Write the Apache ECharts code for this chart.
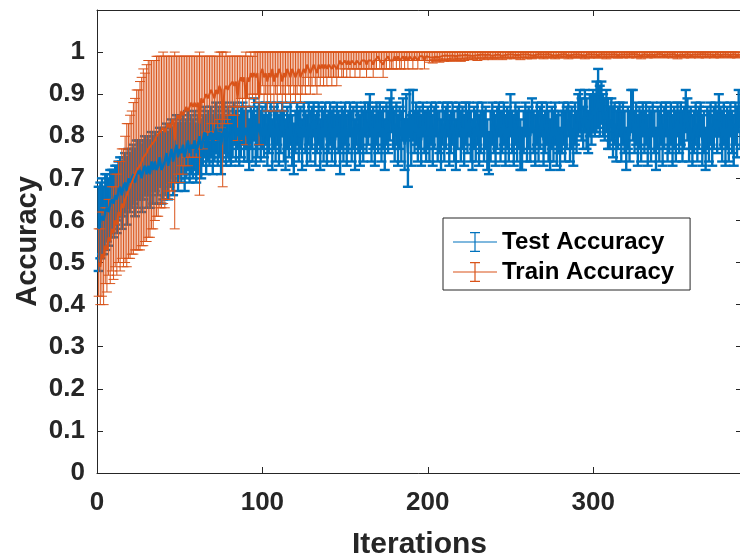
<!DOCTYPE html>
<html>
<head>
<meta charset="utf-8">
<script src="https://cdn.jsdelivr.net/npm/echarts@6/dist/echarts.min.js"></script>
<style>
html, body { margin: 0; padding: 0; background: #fff; }
#main { width: 740px; height: 560px; }
</style>
</head>
<body>
<div id="main"></div>
<script>
(() => {
    // accuracies in percent, one value per iteration (iteration = index + 1)
    var testMean = [
        58,60,61,60,62,63,62,64,65,64,66,65,67,68,66,68,69,67,70,69,
        70,71,69,72,71,72,70,72,73,71,73,71,74,72,74,72,73,75,72,73,
        74,76,73,75,77,74,76,78,75,77,76,78,75,77,79,76,78,77,79,76,
        78,80,77,79,81,78,80,79,81,78,80,82,79,81,78,80,82,79,81,80,
        79,81,83,80,82,79,81,83,80,82,80,78,82,80,84,79,81,83,80,82,
        80,83,79,81,84,78,82,80,83,79,81,84,80,78,82,80,83,79,77,81,
        83,80,82,78,84,81,79,83,80,82,84,79,81,83,78,82,80,84,79,81,
        83,80,82,79,84,81,78,82,80,83,79,81,84,80,82,78,83,81,79,82,
        80,84,81,83,85,80,82,79,83,81,84,80,82,78,83,81,84,86,82,80,
        83,79,82,80,84,78,85,76,86,79,85,81,83,80,82,79,84,81,80,82,
        80,83,79,82,84,80,81,78,83,80,82,84,79,81,83,80,78,82,84,80,
        82,79,83,81,84,80,78,82,80,83,79,81,84,80,82,78,76,80,83,81,
        79,82,84,80,81,83,79,82,80,85,81,79,83,80,82,78,77,81,84,80,
        82,80,85,81,79,83,80,82,84,79,81,83,80,78,82,80,83,79,81,77,
        81,83,80,82,84,80,82,79,83,81,85,86,84,82,86,83,81,85,84,86,
        85,87,89,86,88,85,84,86,83,82,84,81,83,80,82,84,80,83,81,77,
        82,80,86,85,81,83,79,82,80,84,81,83,79,82,80,84,81,77,82,80,
        83,79,82,84,80,81,83,79,82,80,84,81,83,80,82,86,84,80,82,79,
        81,83,80,82,84,79,81,77,82,80,83,79,82,84,81,85,82,80,83,79,
        82,80,84,81,79,83,81,86,82
    ];
    var testErr = [
        10,9,9,8,9,8,8,8,7,8,7,8,7,7,8,7,7,8,7,7,
        7,7,8,7,8,7,8,7,7,8,7,8,7,8,7,8,7,7,8,8,
        8,7,8,7,7,8,7,7,8,7,7,7,8,7,7,7,7,7,7,7,
        7,6,7,6,6,7,6,6,6,7,6,6,6,6,7,6,6,6,6,6,
        6,6,5,6,5,6,6,5,6,5,6,6,5,6,5,6,6,5,6,5,
        5,5,6,5,4,6,5,6,5,6,5,4,6,6,5,5,5,6,6,5,
        5,6,5,6,4,5,6,5,6,5,4,6,5,5,6,5,6,4,6,5,
        5,6,5,6,4,5,7,5,6,5,6,5,4,6,5,6,5,5,6,5,
        6,4,5,5,5,6,5,6,5,5,4,6,5,6,5,5,5,5,5,6,
        5,6,5,6,5,6,5,8,5,6,6,5,5,6,5,6,4,5,6,5,
        6,5,6,5,4,6,5,6,5,6,5,4,6,5,5,6,6,5,4,6,
        5,6,5,5,4,6,6,5,6,5,6,5,4,6,5,6,5,6,5,5,
        6,5,4,6,5,5,6,5,6,5,5,6,5,6,5,6,5,5,4,6,
        5,6,4,5,6,5,6,5,4,6,5,5,6,6,5,6,5,6,5,5,
        5,5,6,5,4,6,5,6,5,5,5,5,5,5,5,6,5,5,6,5,
        5,6,7,6,5,5,5,5,6,5,5,6,5,6,5,4,6,5,5,5,
        5,6,5,6,5,5,6,5,6,4,5,5,6,5,6,4,5,5,5,6,
        5,6,5,4,6,5,5,6,5,6,4,5,5,6,5,5,5,6,5,6,
        5,5,6,5,4,6,5,5,5,6,5,6,5,4,5,5,5,6,5,6,
        5,6,4,5,6,5,6,5,5
    ];
    var trainMean = [
        50,49,52,51,54,53,56,55,58,57,60,59,62,61,64,63,65,66,67,68,
        69,70,71,72,72,73,74,75,75,76,77,77,78,78,79,80,80,81,81,82,
        81,82,83,82,83,84,79,84,85,84,86,85,86,87,86,87,88,87,88,87,
        88,83,89,88,89,90,89,90,91,90,89,91,90,92,91,84,91,92,91,92,
        92,93,92,93,89,93,94,93,94,89,94,93,95,94,95,94,95,89,95,96,
        94,95,93,95,94,96,93,95,94,96,95,93,95,94,96,95,94,96,95,94,
        95,96,94,95,96,95,97,96,95,96,97,96,95,97,96,97,96,97,96,97,
        97,96,97,97,96,97,98,97,97,98,97,98,97,98,98,97,98,98,97,98,
        98,98,97,98,98,98,97,98,98,99,98,98,97,98,98,99,98,98,98,99,
        98,99,98,98,99,98,99,98,99,99,98,99,99,98,99,99,99,98,99,99,
        98.8,99.0,98.7,99.1,98.9,99.2,98.8,99.0,99.1,98.9,99.2,99.0,99.1,98.9,99.2,99.3,99.0,99.1,99.2,98.9,
        99.2,99.0,99.3,99.1,99.2,99.4,99.1,99.3,99.2,99.0,99.3,99.2,99.4,99.1,99.3,99.2,99.4,99.3,99.1,99.3,
        99.3,99.2,99.4,99.3,99.1,99.4,99.3,99.2,99.4,99.3,99.4,99.2,99.3,99.4,99.3,99.1,99.4,99.3,99.4,99.2,
        99.4,99.3,99.2,99.4,99.3,99.4,99.5,99.3,99.4,99.2,99.4,99.3,99.5,99.4,99.3,99.4,99.2,99.4,99.3,99.5,
        99.4,99.3,99.5,99.4,99.2,99.4,99.3,99.5,99.4,99.3,99.4,99.5,99.3,99.4,99.2,99.4,99.5,99.3,99.4,99.3,
        99.4,99.5,99.3,99.4,99.5,99.3,99.4,99.2,99.4,99.5,99.4,99.3,99.5,99.4,99.3,99.5,99.4,99.3,99.4,99.5,
        99.4,99.3,99.5,99.4,99.5,99.3,99.4,99.5,99.2,99.4,99.5,99.4,99.3,99.5,99.4,99.5,99.3,99.4,99.5,99.4,
        99.5,99.4,99.3,99.5,99.4,99.5,99.4,99.3,99.5,99.4,99.2,99.5,99.4,99.5,99.3,99.4,99.5,99.4,99.3,99.5,
        99.4,99.5,99.4,99.3,99.5,99.4,99.5,99.3,99.4,99.5,99.4,99.5,99.3,99.4,99.5,99.4,99.3,99.5,99.4,99.5,
        99.4,99.5,99.3,99.4,99.5,99.4,99.3,99.5,99.4
    ];
    var trainErr = [
        8,9,10,11,9,10,9,10,10,11,11,12,12,13,13,14,15,17,16,17,
        17,18,18,19,19,20,20,21,20,21,21,21,20,20,19,19,19,18,18,18,
        18,17,16,17,16,15,21,15,14,15,13,14,13,12,13,12,11,12,11,12,
        11,17,10,11,10,9,10,9,8,9,10,8,9,8,9,16,8,8,8,7,
        7,6,7,6,10,6,5,6,5,11,5,6,5,5,5,6,5,11,5,4,
        6,5,7,5,6,4,7,5,6,4,5,7,5,6,4,5,6,4,5,6,
        5,4,6,5,4,5,3,4,5,4,3,4,5,3,4,3,4,3,4,3,
        3,4,3,3,4,3,2,3,3,2,3,2,3,2,2,3,2,2,3,2,
        2,2,3,2,2,2,3,2,2,1,2,2,3,2,2,1,2,2,2,1,
        2,1,2,2,1,2,1,2,1,1,2,1,1,2,1,1,1,2,1,1,
        1.2,1.0,1.3,0.9,1.1,0.8,1.2,1.0,0.9,1.1,0.8,1.0,0.9,1.1,0.8,0.7,1.0,0.9,0.8,1.1,
        0.8,1.0,0.7,0.9,0.8,0.6,0.9,0.7,0.8,1.0,0.7,0.8,0.6,0.9,0.7,0.8,0.6,0.7,0.9,0.7,
        0.7,0.8,0.6,0.7,0.9,0.6,0.7,0.8,0.6,0.7,0.6,0.8,0.7,0.6,0.7,0.9,0.6,0.7,0.6,0.8,
        0.6,0.7,0.8,0.6,0.7,0.6,0.5,0.7,0.6,0.8,0.6,0.7,0.5,0.6,0.7,0.6,0.8,0.6,0.7,0.5,
        0.6,0.7,0.5,0.6,0.8,0.6,0.7,0.5,0.6,0.7,0.6,0.5,0.7,0.6,0.8,0.6,0.5,0.7,0.6,0.7,
        0.6,0.5,0.7,0.6,0.5,0.7,0.6,0.8,0.6,0.5,0.6,0.7,0.5,0.6,0.7,0.5,0.6,0.7,0.6,0.5,
        0.6,0.7,0.5,0.6,0.5,0.7,0.6,0.5,0.8,0.6,0.5,0.6,0.7,0.5,0.6,0.5,0.7,0.6,0.5,0.6,
        0.5,0.6,0.7,0.5,0.6,0.5,0.6,0.7,0.5,0.6,0.8,0.5,0.6,0.5,0.7,0.6,0.5,0.6,0.7,0.5,
        0.6,0.5,0.6,0.7,0.5,0.6,0.5,0.7,0.6,0.5,0.6,0.5,0.7,0.6,0.5,0.6,0.7,0.5,0.6,0.5,
        0.6,0.5,0.7,0.6,0.5,0.6,0.7,0.5,0.6
    ];
    var xTicks = [0, 100, 200, 300];
    var yTicks = [0, 0.1, 0.2, 0.3, 0.4, 0.5, 0.6, 0.7, 0.8, 0.9, 1];

    var blue = '#0072BD';
    var orange = '#D95319';
    var ink = '#262626';
    var font = '"Liberation Sans", Arial, sans-serif';

    function meanData(mean) {
        return mean.map(function (m, i) { return [i + 1, m / 100]; });
    }
    function barData(mean, err) {
        return mean.map(function (m, i) { return [i + 1, (m - err[i]) / 100, (m + err[i]) / 100]; });
    }

    // errorbar: vertical whisker with a small cap at each end
    function errorBar(color, width) {
        return function (params, api) {
            var hi = api.coord([api.value(0), api.value(2)]);
            var lo = api.coord([api.value(0), api.value(1)]);
            var cap = 5;
            var st = { stroke: color, lineWidth: width };
            return {
                type: 'group',
                children: [
                    { type: 'line', shape: { x1: hi[0], y1: hi[1], x2: lo[0], y2: lo[1] }, style: st },
                    { type: 'line', shape: { x1: hi[0] - cap, y1: hi[1], x2: hi[0] + cap, y2: hi[1] }, style: st },
                    { type: 'line', shape: { x1: lo[0] - cap, y1: lo[1], x2: lo[0] + cap, y2: lo[1] }, style: st }
                ]
            };
        };
    }

    var legendIcon = 'path://M0,9.4H44V10.6H0Z M21.4,0H22.6V20H21.4Z M17,0H27V1.2H17Z M17,18.8H27V20H17Z';

    var tickStyle = { show: true, inside: true, length: 6, lineStyle: { color: ink, width: 1 } };
    var lineStyle = { show: true, onZero: false, lineStyle: { color: ink, width: 1 } };
    var labelStyle = { fontSize: 26, fontWeight: 'bold', color: ink, fontFamily: font };

    var myChart = echarts.init(document.getElementById('main'));

    var option = {
        animation: false,
        backgroundColor: '#fff',
        textStyle: { fontFamily: font },
        grid: { left: 97, right: -2, top: 10, bottom: 87, containLabel: false, outerBoundsMode: 'none' },
        legend: {
            orient: 'vertical',
            left: 443,
            top: 218,
            padding: [12, 16, 6, 10],
            itemGap: 6,
            itemWidth: 44,
            itemHeight: 20,
            backgroundColor: '#fff',
            borderColor: ink,
            borderWidth: 1,
            borderRadius: 0,
            selectedMode: false,
            textStyle: { fontSize: 24, fontWeight: 'bold', color: '#000', fontFamily: font },
            data: [
                { name: 'Test Accuracy', icon: legendIcon, itemStyle: { color: blue } },
                { name: 'Train Accuracy', icon: legendIcon, itemStyle: { color: orange } }
            ]
        },
        xAxis: [
            {
                type: 'value', min: 0, max: 390, interval: 100,
                name: 'Iterations', nameLocation: 'middle', nameGap: 57,
                nameTextStyle: { fontSize: 30, fontWeight: 'bold', color: ink, fontFamily: font },
                axisLine: lineStyle, axisTick: tickStyle, splitLine: { show: false },
                axisLabel: Object.assign({
                    margin: 17,
                    formatter: function (v) { return xTicks.indexOf(v) >= 0 ? String(v) : ''; }
                }, labelStyle)
            },
            {
                type: 'value', position: 'top', min: 0, max: 390, interval: 100,
                axisLine: lineStyle, axisTick: tickStyle, splitLine: { show: false },
                axisLabel: { show: false }
            }
        ],
        yAxis: [
            {
                type: 'value', min: 0, max: 1.1, interval: 0.1,
                name: 'Accuracy', nameLocation: 'middle', nameGap: 55, nameMoveOverlap: false,
                nameTextStyle: { fontSize: 29, fontWeight: 'bold', color: ink, fontFamily: font },
                axisLine: lineStyle, axisTick: tickStyle, splitLine: { show: false },
                axisLabel: Object.assign({
                    margin: 12,
                    formatter: function (v) {
                        var r = Math.round(v * 10) / 10;
                        return yTicks.indexOf(r) >= 0 ? String(r) : '';
                    }
                }, labelStyle)
            },
            {
                type: 'value', position: 'right', min: 0, max: 1.1, interval: 0.1,
                axisLine: lineStyle, axisTick: tickStyle, splitLine: { show: false },
                axisLabel: { show: false }
            }
        ],
        series: [
            {
                name: 'Test Accuracy', type: 'custom', silent: true,
                renderItem: errorBar(blue, 2.4),
                itemStyle: { color: blue },
                encode: { x: 0, y: [1, 2] },
                data: barData(testMean, testErr)
            },
            {
                name: 'Test Accuracy', type: 'line', silent: true,
                showSymbol: false, symbol: 'none',
                itemStyle: { color: blue },
                lineStyle: { color: blue, width: 2.5 },
                data: meanData(testMean)
            },
            {
                name: 'Train Accuracy', type: 'custom', silent: true,
                renderItem: errorBar(orange, 1),
                itemStyle: { color: orange },
                encode: { x: 0, y: [1, 2] },
                data: barData(trainMean, trainErr)
            },
            {
                name: 'Train Accuracy', type: 'line', silent: true,
                showSymbol: false, symbol: 'none',
                itemStyle: { color: orange },
                lineStyle: { color: orange, width: 2 },
                data: meanData(trainMean)
            }
        ]
    };
    myChart.setOption(option);
})();
</script>
</body>
</html>
